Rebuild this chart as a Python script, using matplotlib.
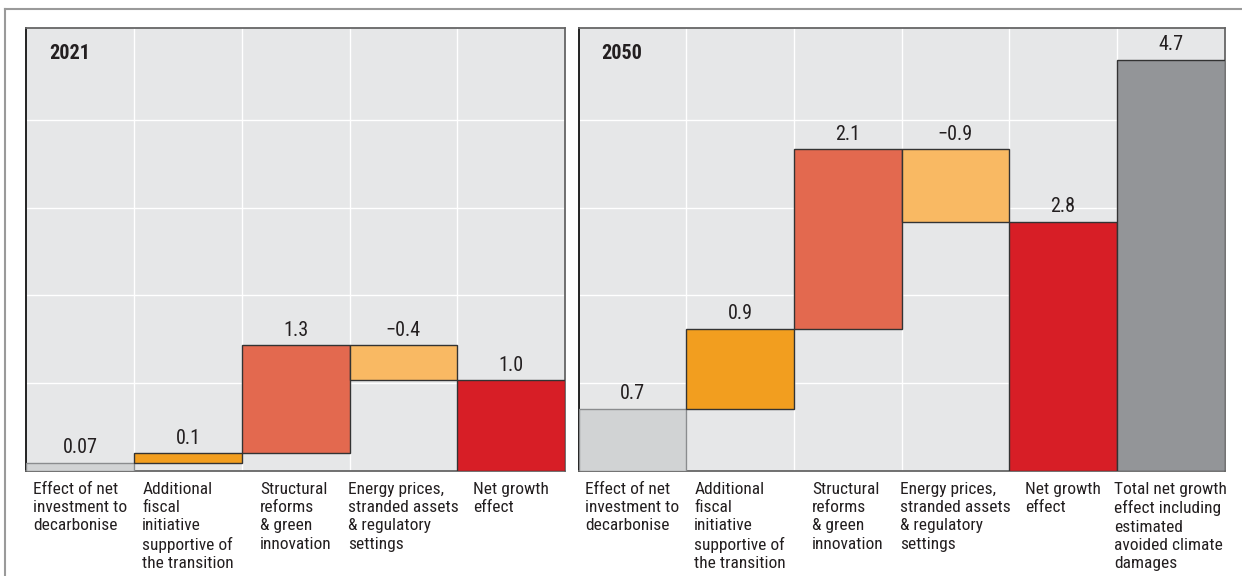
import matplotlib
matplotlib.use("Agg")
import matplotlib.pyplot as plt
from matplotlib import font_manager
from matplotlib.lines import Line2D

# --- data -------------------------------------------------------------
LEFT_TITLE = "2021"
LEFT_CATEGORIES = [
    "Effect of net\ninvestment to\ndecarbonise",
    "Additional\nfiscal\ninitiative\nsupportive of\nthe transition",
    "Structural\nreforms\n& green\ninnovation",
    "Energy prices,\nstranded assets\n& regulatory\nsettings",
    "Net growth\neffect",
]
LEFT_STEPS = [0.09, 0.11, 1.23, -0.40]
LEFT_NET = 1.03
LEFT_LABELS = ["0.07", "0.1", "1.3", "\u22120.4", "1.0"]

RIGHT_TITLE = "2050"
RIGHT_CATEGORIES = LEFT_CATEGORIES + [
    "Total net growth\neffect including\nestimated\navoided climate\ndamages",
]
RIGHT_STEPS = [0.71, 0.91, 2.05, -0.83]
RIGHT_NET = 2.84
RIGHT_TOTAL = 4.69
RIGHT_LABELS = ["0.7", "0.9", "2.1", "\u22120.9", "2.8", "4.7"]

STEP_COLORS = ["#d1d3d4", "#f29e1f", "#e3694f", "#f9b963"]
NET_COLOR = "#d71e26"
TOTAL_COLOR = "#939598"
PANEL_BG = "#e6e7e8"
TEXT_COLOR = "#231f20"
Y_MAX = 5.05

# pick a narrow face if one is installed
FONT, STRETCH = "DejaVu Sans", "normal"
for f in font_manager.fontManager.ttflist:
    if f.name in ("Roboto Condensed", "Liberation Sans Narrow", "Open Sans Condensed"):
        FONT, STRETCH = f.name, "normal"
        break
else:
    for f in font_manager.fontManager.ttflist:
        if f.name in ("DejaVu Sans", "Roboto", "Open Sans", "Noto Sans") and \
                str(f.stretch) in ("condensed", "semi-condensed", "75", "87.5"):
            FONT, STRETCH = f.name, "condensed"
            break
plt.rcParams["font.family"] = [FONT, "DejaVu Sans"]
plt.rcParams["font.stretch"] = STRETCH
NARROW = FONT != "DejaVu Sans" or STRETCH != "normal"
CAT_SIZE = 12.5 if NARROW else 10.0
VAL_SIZE = 14.5 if NARROW else 13


def draw_panel(ax, title, categories, steps, net, labels, total=None):
    ax.set_facecolor(PANEL_BG)
    bottoms, heights = [], []
    level = 0.0
    for step in steps:
        bottoms.append(level if step >= 0 else level + step)
        heights.append(abs(step))
        level += step
    bottoms.append(0.0)
    heights.append(net)
    colors = STEP_COLORS + [NET_COLOR]
    if total is not None:
        bottoms.append(0.0)
        heights.append(total)
        colors.append(TOTAL_COLOR)

    n = len(heights)
    xs = list(range(n))
    edges = ["#8a8c8e"] + ["#333333"] * (n - 1)
    ax.bar(xs, heights, bottom=bottoms, width=1.0, color=colors,
           edgecolor=edges, linewidth=1.0, zorder=3)

    for x, b, h, lab in zip(xs, bottoms, heights, labels):
        ax.annotate(lab, xy=(x, b + h), xytext=(0, 6.8), textcoords="offset points",
                    ha="center", va="baseline", fontsize=VAL_SIZE, color=TEXT_COLOR)

    for x, cat in zip(xs, categories):
        ax.annotate(cat, xy=(x, 0), xytext=(0, -8), textcoords="offset points",
                    ha="center", va="top", multialignment="left",
                    fontsize=CAT_SIZE, color=TEXT_COLOR, linespacing=1.27,
                    annotation_clip=False)

    ax.annotate(title, xy=(0, 1), xycoords="axes fraction", xytext=(16.5, -11),
                textcoords="offset points", ha="left", va="top",
                fontsize=14.5, fontweight="bold", color=TEXT_COLOR)

    ax.set_xlim(-0.5, n - 0.5)
    ax.set_ylim(0, Y_MAX)
    ax.set_xticks([i + 0.5 for i in range(n - 1)])
    ax.set_yticks([1, 2, 3, 4])
    ax.grid(True, color="white", linewidth=1.0)
    ax.set_axisbelow(True)
    ax.tick_params(length=0, labelbottom=False, labelleft=False)
    for side in ("top", "right", "bottom"):
        ax.spines[side].set_color("#666666")
        ax.spines[side].set_linewidth(1.3)
    ax.spines["left"].set_color("#222222")
    ax.spines["left"].set_linewidth(1.4)


fig = plt.figure(figsize=(12.42, 5.76), dpi=100)
H = 576.0
W = 1242.0
bottom = 1 - 470.7 / H
height = (470.7 - 28.3) / H
ax1 = fig.add_axes([26.4 / W, bottom, (565.0 - 26.4) / W, height])
ax2 = fig.add_axes([578.6 / W, bottom, (1224.5 - 578.6) / W, height])

draw_panel(ax1, LEFT_TITLE, LEFT_CATEGORIES, LEFT_STEPS, LEFT_NET, LEFT_LABELS)
draw_panel(ax2, RIGHT_TITLE, RIGHT_CATEGORIES, RIGHT_STEPS, RIGHT_NET, RIGHT_LABELS,
           total=RIGHT_TOTAL)

# outer frame (left and top edges)
fig.add_artist(Line2D([5 / W, 5 / W], [0, 1 - 9 / H], color="#9a9a9a", linewidth=1.5))
fig.add_artist(Line2D([5 / W, 1], [1 - 9 / H, 1 - 9 / H], color="#9a9a9a", linewidth=1.5))

fig.savefig("out.png", dpi=100)
